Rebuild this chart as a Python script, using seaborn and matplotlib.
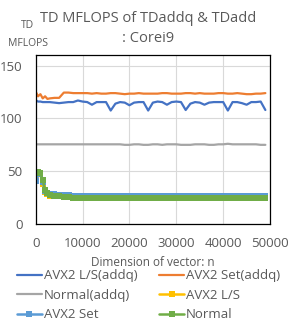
import matplotlib
matplotlib.use("Agg")
import matplotlib.pyplot as plt
import seaborn as sns
import pandas as pd

# x grid (dimension of vector n)
n_vals = [100, 500, 1000, 1500, 2000, 2500, 3000, 4000, 5000, 6000, 7000, 8000, 9000,
          10000, 11000, 12000, 13000, 14000, 15000, 16000, 17000, 18000, 19000,
          20000, 21000, 22000, 23000, 24000, 25000, 26000, 27000, 28000, 29000,
          30000, 31000, 32000, 33000, 34000, 35000, 36000, 37000, 38000, 39000,
          40000, 41000, 42000, 43000, 44000, 45000, 46000, 47000, 48000, 49000]

avx2_ls_addq = [117, 116, 116, 115.5, 115.5, 115.5, 115.5, 115, 114.5, 115, 115.5, 115.5, 117,
                116, 115.5, 113, 115.5, 115.5, 115.5, 107.5, 114, 115.5, 115,
                112.5, 115, 115.5, 115.5, 107.5, 115, 116, 115.5, 113, 115.5,
                116, 115.5, 108, 114, 115.5, 115, 113, 115, 115.5, 115.5,
                115.5, 107.5, 115.5, 115.5, 114.5, 113, 115.5, 115.5, 116, 108]

avx2_set_addq = [124.5, 121, 123, 119, 121, 118.5, 119, 119.5, 119.5, 124.5, 124.5, 124, 124,
                 124, 124, 123.5, 124, 123.5, 123.5, 124, 124, 123.5, 123,
                 123.5, 123.5, 124, 123.5, 123.5, 123.5, 123.5, 124, 124, 123.5,
                 123.5, 123.5, 124, 124, 123.5, 124, 123.5, 123.5, 123.5, 124,
                 124, 123.5, 123.5, 124, 123.5, 123, 123, 123.5, 123.5, 124]

normal_addq = [75.5, 75.5, 75.5, 75.5, 75.5, 75.5, 75.5, 75.5, 75.5, 75.5, 75.5, 75.5, 75.5,
               75.5, 75.5, 75.5, 75.5, 75.5, 75.5, 75.5, 75.5, 75.5, 75,
               75, 75.5, 75.5, 75, 75, 75.5, 75.5, 75, 75.5, 75.5,
               75.5, 75, 75, 75, 75.5, 75.5, 75.5, 75, 75, 75.5,
               75.5, 76, 75.5, 75.5, 75.5, 75.5, 75.5, 75.5, 75, 75]

avx2_ls = [45, 48, 47, 38, 30, 28.5, 27, 26.5, 26.5, 26, 26, 26, 26,
           26, 26, 26, 26, 26, 26, 26, 26, 26, 26,
           26, 26, 26, 26, 26, 26, 26, 26, 26, 26,
           26, 26, 26, 26, 26, 26, 26, 26, 26, 26,
           26, 26, 26, 26, 26, 26, 26, 26, 26, 26]

avx2_set = [41, 47, 47, 40, 31, 29, 28, 28, 27.5, 27.5, 27.5, 27, 27,
            27, 27, 27, 27, 27, 27, 27, 27, 27, 27,
            27, 27, 27, 27, 27, 27, 27, 27, 27, 27,
            27, 27, 27, 27, 27, 27, 27, 27, 27, 27,
            27, 27, 27, 27, 27, 27, 27, 27, 27, 27]

normal = [48, 49, 48, 42, 32, 29, 27.5, 27, 26.5, 26, 25.5, 25, 25,
          25, 24.5, 24.5, 25, 25, 25, 25, 25, 25, 25,
          25, 25, 25, 25, 25, 25, 25, 25, 25, 25,
          25, 25, 25, 25, 25, 25, 25, 25, 25, 25,
          25, 25, 25, 25, 25, 25, 25, 25, 25, 25]

series_names = ["AVX2 L/S(addq)", "AVX2 Set(addq)", "Normal(addq)",
                "AVX2 L/S", "AVX2 Set", "Normal"]
series_vals = [avx2_ls_addq, avx2_set_addq, normal_addq, avx2_ls, avx2_set, normal]
colors = ["#4472C4", "#ED7D31", "#A5A5A5", "#FFC000", "#5B9BD5", "#70AD47"]
markers = [None, None, None, "s", "s", "s"]

title_lines = ["TD MFLOPS of TDaddq & TDadd", ": Corei9"]
ylabel_lines = ["TD", "MFLOPS"]
xlabel = "Dimension of vector: n"

sns.set_theme(style="whitegrid")
plt.rcParams["font.family"] = ["Open Sans", "DejaVu Sans"]

fig = plt.figure(figsize=(2.91, 3.28), dpi=100)
ax = fig.add_axes([0.1227, 0.317, 0.8053, 0.515])

for name, vals, c, m in zip(series_names, series_vals, colors, markers):
    df = pd.DataFrame({"n": n_vals, "v": vals})
    if m is None:
        sns.lineplot(data=df, x="n", y="v", color=c, linewidth=1.6, label=name, ax=ax)
    else:
        sns.lineplot(data=df, x="n", y="v", color=c, linewidth=1.8, marker=m,
                     markersize=4.5, markeredgewidth=0, label=name, ax=ax)

ax.set_xlim(0, 50000)
ax.set_ylim(0, 160)
ax.set_xticks([0, 10000, 20000, 30000, 40000, 50000])
ax.set_yticks([0, 50, 100, 150])
ax.grid(True, color="#D9D9D9", linewidth=0.8)
ax.tick_params(length=0, labelsize=9.5, colors="#595959", pad=9.5)
for sp in ax.spines.values():
    sp.set_color("#000000")
    sp.set_linewidth(0.9)

ax.set_xlabel(xlabel, fontsize=8.5, color="#595959", labelpad=4)
ax.set_ylabel("")

# y-axis title (two separate lines, placed at top-left)
fig.text(28 / 291, 1 - 26 / 328, ylabel_lines[0], ha="center", va="center",
         fontsize=7.5, color="#595959")
fig.text(28 / 291, 1 - 43 / 328, ylabel_lines[1], ha="center", va="center",
         fontsize=7.5, color="#595959")
# chart title (two lines)
fig.text(148 / 291, 1 - 18 / 328, title_lines[0], ha="center", va="center",
         fontsize=10.5, color="#595959")
fig.text(148 / 291, 1 - 39 / 328, title_lines[1], ha="center", va="center",
         fontsize=10.5, color="#595959")

h, l = ax.get_legend_handles_labels()
order = [0, 2, 4, 1, 3, 5]
leg = ax.legend([h[i] for i in order], [l[i] for i in order], ncol=2,
                loc="upper left", bbox_to_anchor=(-0.08, -0.268),
                frameon=False, fontsize=9.5, handlelength=1.9, handletextpad=0.12,
                columnspacing=1.65, labelspacing=0.5, borderaxespad=0, borderpad=0)
for t in leg.get_texts():
    t.set_color("#595959")

fig.savefig("out.png", dpi=100)
